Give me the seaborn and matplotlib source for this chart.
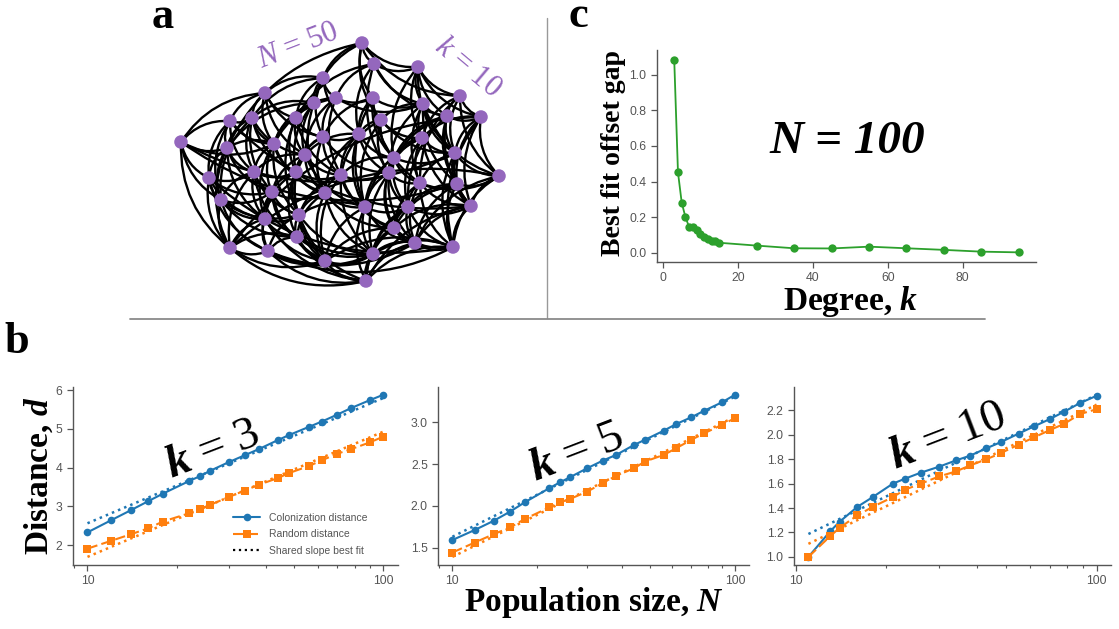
import numpy as np
import matplotlib
matplotlib.use("Agg")
import matplotlib.pyplot as plt
from matplotlib.patches import FancyArrowPatch
from matplotlib.lines import Line2D
from matplotlib.ticker import ScalarFormatter, NullFormatter, FormatStrFormatter
import seaborn as sns

# ---- panel b: distance vs population size ----
n_k3 = [10, 12, 14, 16, 18, 22, 24, 26, 30, 34, 38, 44, 48, 56, 62, 70, 78, 90, 100]
col_k3 = [2.33, 2.64, 2.90, 3.13, 3.33, 3.65, 3.78, 3.92, 4.14, 4.32, 4.48, 4.71, 4.84,
          5.05, 5.19, 5.37, 5.54, 5.74, 5.88]
rnd_k3 = [1.91, 2.11, 2.28, 2.43, 2.61, 2.82, 2.93, 3.04, 3.24, 3.41, 3.56, 3.73, 3.86,
          4.04, 4.19, 4.36, 4.48, 4.65, 4.80]

n_k5 = [10, 12, 14, 16, 18, 22, 24, 26, 30, 34, 38, 44, 48, 56, 62, 70, 78, 90, 100]
col_k5 = [1.59, 1.71, 1.82, 1.93, 2.04, 2.21, 2.28, 2.34, 2.45, 2.54, 2.61, 2.73, 2.79,
          2.90, 2.98, 3.06, 3.14, 3.24, 3.33]
rnd_k5 = [1.44, 1.56, 1.66, 1.74, 1.84, 1.98, 2.04, 2.08, 2.17, 2.27, 2.36, 2.45, 2.53,
          2.61, 2.69, 2.79, 2.87, 2.97, 3.05]

n_k10 = [11, 13, 14, 16, 18, 21, 23, 26, 30, 34, 38, 43, 48, 55, 62, 70, 78, 88, 100]
col_k10 = [1.00, 1.21, 1.29, 1.41, 1.49, 1.60, 1.64, 1.69, 1.74, 1.79, 1.83, 1.89, 1.94,
           2.01, 2.07, 2.13, 2.19, 2.26, 2.32]
rnd_k10 = [1.00, 1.17, 1.24, 1.34, 1.41, 1.49, 1.55, 1.60, 1.66, 1.70, 1.75, 1.80, 1.85,
           1.92, 1.98, 2.04, 2.09, 2.17, 2.21]

yticks_b = [[2, 3, 4, 5, 6], [1.5, 2.0, 2.5, 3.0], [1.0, 1.2, 1.4, 1.6, 1.8, 2.0, 2.2]]
yfmt_b = ["%d", "%.1f", "%.1f"]

# ---- panel c: offset gap vs degree (N = 100) ----
degree = [3, 4, 5, 6, 7, 8, 9, 10, 11, 12, 13, 14, 15, 25, 35, 45, 55, 65, 75, 85, 95]
gap = [1.085, 0.452, 0.281, 0.200, 0.143, 0.142, 0.128, 0.105, 0.088, 0.078, 0.065,
       0.064, 0.056, 0.040, 0.025, 0.024, 0.034, 0.025, 0.016, 0.006, 0.002]

# ---- panel a: example network (N = 50, k = 10), layout ----
node_x = [362, 374, 418, 323, 265, 460, 336, 373, 314, 423, 230, 252, 296, 447, 481, 381,
          181, 323, 359, 422, 274, 227, 305, 394, 455, 209, 254, 296, 341, 389, 420, 457,
          499, 221, 272, 325, 365, 408, 471, 265, 299, 394, 297, 230, 268, 415, 453, 325,
          373, 366]
node_y = [43, 64, 67, 78, 93, 96, 98, 98, 103, 104, 121, 118, 118, 116, 117, 120,
          142, 137, 134, 138, 144, 148, 155, 158, 153, 178, 172, 172, 175, 173, 183, 184,
          176, 200, 192, 193, 207, 207, 206, 219, 215, 228, 237, 248, 251, 243, 247, 261,
          254, 281]
links = {
    0: [1, 3, 2, 7, 15, 21, 8, 5], 1: [2, 6, 9, 18, 29, 12, 13],
    2: [5, 13, 9, 19, 24, 14, 23], 3: [4, 8, 6, 17, 12, 11, 18],
    4: [10, 11, 12, 20, 22, 16, 17], 5: [14, 13, 24, 19, 32, 30],
    6: [7, 12, 17, 22, 28, 20, 9], 7: [15, 9, 18, 23, 36, 17, 30],
    8: [11, 12, 20, 27, 35, 21, 22], 9: [13, 19, 15, 30, 24, 29, 31],
    10: [16, 21, 11, 25, 26, 38, 33, 20], 11: [20, 21, 22, 34, 33, 26, 27],
    12: [17, 22, 20, 27, 40, 28], 13: [14, 24, 31, 23, 37, 29, 38],
    14: [24, 32, 31, 38, 19, 43], 15: [18, 23, 19, 29, 28, 36, 24],
    16: [21, 25, 33, 20, 43, 24, 31], 17: [18, 22, 28, 35, 27, 29],
    18: [23, 28, 29, 36, 22, 35], 19: [23, 30, 24, 37, 29, 36, 38],
    20: [26, 27, 21, 34, 39, 40, 35], 21: [25, 26, 33, 34, 43, 39],
    22: [27, 28, 35, 26, 40, 34, 36], 23: [29, 30, 36, 41, 24, 37, 28],
    24: [31, 32, 30, 38, 46], 25: [33, 26, 43, 39, 34, 46, 44],
    26: [34, 27, 39, 33, 42, 43, 40], 27: [35, 28, 40, 42, 34, 39, 47],
    28: [36, 29, 35, 41, 47, 48, 40], 29: [30, 36, 37, 41, 45, 48],
    30: [31, 37, 38, 45, 46, 41, 32], 31: [32, 38, 46, 37, 45, 41],
    32: [38, 46, 24, 9, 45, 43], 33: [43, 39, 44, 34, 16, 40, 42],
    34: [39, 40, 44, 42, 35, 47], 35: [40, 36, 42, 47, 48, 41],
    36: [37, 41, 48, 49, 40, 45], 37: [41, 45, 38, 48, 46, 49],
    38: [46, 45, 31, 41, 32], 39: [43, 44, 42, 40, 47, 49],
    40: [42, 47, 44, 48, 35, 49], 41: [45, 48, 49, 47, 46],
    42: [44, 47, 43, 49, 48, 45], 43: [44, 47, 49, 16, 25],
    44: [47, 49, 45, 43, 48, 46], 45: [46, 48, 49, 38, 41],
    46: [49, 47, 32, 14, 41], 47: [49, 48, 42, 44, 36],
    48: [49, 46, 44, 35, 37], 49: [45, 42, 43, 38],
}

blue, orange, green, purple = "#1f77b4", "#ff7f0e", "#2ca02c", "#9467bd"
grey = "#555555"

sns.set_theme(style="ticks")
plt.rcParams["font.family"] = ["Liberation Sans", "DejaVu Sans"]
plt.rcParams["text.color"] = "black"
plt.rcParams["axes.labelcolor"] = "black"
plt.rcParams["mathtext.fontset"] = "custom"
plt.rcParams["mathtext.rm"] = "Liberation Serif"
plt.rcParams["mathtext.it"] = "Liberation Serif:italic:bold"
plt.rcParams["mathtext.bf"] = "Liberation Serif:bold"
plt.rcParams["mathtext.sf"] = "Liberation Serif:italic"

W, H = 1119, 629
fig = plt.figure(figsize=(W / 100, H / 100), dpi=100)


def box(left, top, right, bottom):
    return [left / W, 1 - bottom / H, (right - left) / W, (bottom - top) / H]


def style_axes(ax):
    sns.despine(ax=ax)
    for s in ["left", "bottom"]:
        ax.spines[s].set_color(grey)
        ax.spines[s].set_linewidth(1.0)
    ax.tick_params(which="major", labelsize=8.8, colors=grey, length=4, width=0.9)
    ax.tick_params(which="minor", colors=grey, length=2.5, width=0.8)


serif = "Liberation Serif"

# ---- panel b ----
panels = [
    (n_k3, col_k3, rnd_k3, box(72.7, 386.7, 398, 565), "$k$ = 3", (0.431, 0.645)),
    (n_k5, col_k5, rnd_k5, box(438.3, 386.7, 749, 565), "$k$ = 5", (0.445, 0.63)),
    (n_k10, col_k10, rnd_k10, box(794, 386.7, 1111, 565), "$k$ = 10", (0.484, 0.72)),
]
axes_b = []
for idx, (n, col, rnd, pos, title, tpos) in enumerate(panels):
    ax = fig.add_axes(pos)
    axes_b.append(ax)
    logn = np.log10(n)
    # shared slope least squares fit
    A = np.zeros((2 * len(n), 3))
    A[:, 0] = np.concatenate([logn, logn])
    A[:len(n), 1] = 1
    A[len(n):, 2] = 1
    coef = np.linalg.lstsq(A, np.concatenate([col, rnd]), rcond=None)[0]
    ends = np.array([n[0], n[-1]])
    ax.plot(ends, coef[0] * np.log10(ends) + coef[1], ":", color=blue, lw=1.8)
    ax.plot(ends, coef[0] * np.log10(ends) + coef[2], ":", color=orange, lw=1.8)
    sns.lineplot(x=n, y=col, ax=ax, color=blue, marker="o", markersize=5.5,
                 markeredgewidth=0, lw=1.5)
    sns.lineplot(x=n, y=rnd, ax=ax, color=orange, marker="s", markersize=5.5,
                 markeredgewidth=0, lw=1.5, linestyle=(0, (5, 2)))
    ax.set_xscale("log")
    ax.set_xticks([10, 100])
    ax.xaxis.set_major_formatter(ScalarFormatter())
    ax.xaxis.set_minor_formatter(NullFormatter())
    ax.set_yticks(yticks_b[idx])
    ax.yaxis.set_major_formatter(FormatStrFormatter(yfmt_b[idx]))
    style_axes(ax)
    ax.text(tpos[0], tpos[1], title, transform=ax.transAxes, fontsize=34,
            family=serif, rotation=21, ha="center", va="center",
            rotation_mode="anchor")

ax1 = axes_b[0]
ax1.set_ylabel("Distance, $d$", family=serif, fontweight="bold", fontsize=24,
               va="center")
ax1.yaxis.set_label_coords(-0.104, 0.5)
handles = [
    Line2D([], [], color=blue, marker="o", markersize=5.5, markeredgewidth=0, lw=1.5),
    Line2D([], [], color=orange, marker="s", markersize=5.5, markeredgewidth=0, lw=1.5,
           linestyle=(0, (5, 2))),
    Line2D([], [], color="black", linestyle=":", lw=1.6),
]
leg = ax1.legend(handles, ["Colonization distance", "Random distance",
                           "Shared slope best fit"],
                 loc="lower left", bbox_to_anchor=(0.465, 0.0), frameon=False,
                 fontsize=7.5, handlelength=2.6, labelspacing=0.6)
for t in leg.get_texts():
    t.set_color(grey)

ax2 = axes_b[1]
ax2.set_xlabel("Population size, $N$", family=serif, fontweight="bold", fontsize=24,
               va="center")
ax2.xaxis.set_label_coords(0.5, -0.213)

# ---- panel c ----
axc = fig.add_axes(box(657, 50, 1036, 262))
sns.lineplot(x=degree, y=gap, ax=axc, color=green, marker="o", markersize=6,
             markeredgewidth=0, lw=1.3)
axc.set_xticks([0, 20, 40, 60, 80])
axc.set_yticks([0.0, 0.2, 0.4, 0.6, 0.8, 1.0])
style_axes(axc)
axc.set_ylabel("Best fit offset gap", family=serif, fontweight="bold", fontsize=20,
               va="center")
axc.yaxis.set_label_coords(-0.116, 0.514)
axc.set_xlabel("Degree, $k$", family=serif, fontweight="bold", fontsize=24,
               va="center")
axc.xaxis.set_label_coords(0.512, -0.186)
axc.text(0.501, 0.566, "N = 100", transform=axc.transAxes, family=serif,
         fontweight="bold", fontstyle="italic", fontsize=34, ha="center", va="center")

# ---- panel a ----
axa = fig.add_axes(box(150, 20, 530, 300))
drawn = set()
for i, nbrs in links.items():
    for j in nbrs:
        e = (min(i, j), max(i, j))
        if e in drawn:
            continue
        drawn.add(e)
        arc = FancyArrowPatch((node_x[e[0]], node_y[e[0]]), (node_x[e[1]], node_y[e[1]]),
                              connectionstyle="arc3,rad=0.25", arrowstyle="-",
                              color="black", lw=1.7, shrinkA=0, shrinkB=0, zorder=1)
        axa.add_patch(arc)
sns.scatterplot(x=node_x, y=node_y, ax=axa, color=purple, s=95, edgecolor="none",
                zorder=3)
axa.set_xlim(150, 530)
axa.set_ylim(300, 20)
axa.axis("off")
fig.text(298 / W, 1 - 46 / H, "$\\mathsf{N}$ = 50", color=purple, fontsize=22,
         family=serif, rotation=21, ha="center", va="center", rotation_mode="anchor")
fig.text(468 / W, 1 - 68 / H, "$\\mathsf{k}$ = 10", color=purple, fontsize=22,
         family=serif, rotation=-40, ha="center", va="center", rotation_mode="anchor")

# ---- panel letters and dividers ----
for letter, x, y in [("a", 163, 28), ("b", 17, 353), ("c", 578, 27)]:
    fig.text(x / W, 1 - y / H, letter, family=serif, fontweight="bold", fontsize=32,
             ha="center", va="baseline")
fig.add_artist(Line2D([547 / W, 547 / W], [1 - 18 / H, 1 - 318 / H], color="#999999",
                      lw=1.0))
fig.add_artist(Line2D([130 / W, 985 / W], [1 - 319 / H, 1 - 319 / H], color="#8a8a8a",
                      lw=1.3))

fig.savefig("out.png", dpi=100)
